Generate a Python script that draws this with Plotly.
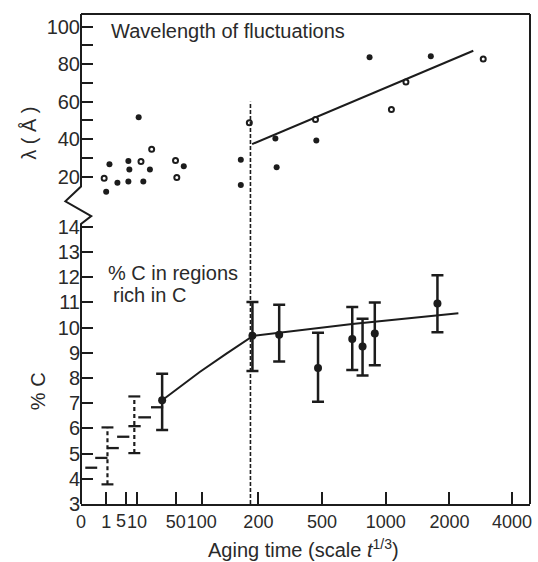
import numpy as np
import plotly.graph_objects as go

# ---------------- scale (aging time -> axis position) ----------------
TIME_TICKS = [0, 1, 5, 10, 50, 100, 200, 500, 1000, 2000, 4000]
TICK_LABELS = ["0", "1", "5", "10", "50", "100", "200", "500", "1000", "2000", "4000"]
AXIS_POS = [0, 25.3, 45.3, 56.3, 95.3, 121.3, 178.3, 242.3, 306.3, 370.3, 433.3]
X_RANGE = [0, 451.3]
SHIFTED_LABEL_T = 5      # label drawn slightly left of its tick, as in the original

def pos(t):
    return [None if v is None else float(np.interp(v, TIME_TICKS, AXIS_POS)) for v in t]

# ---------------- upper panel: wavelength of fluctuations ----------------
lam_open_t = [0.92, 14.1, 25.1, 49.7, 51.9, 184, 469, 1089, 1317, 3079]
lam_open = [19.1, 28.1, 34.6, 28.6, 19.6, 48.8, 50.5, 55.8, 70.5, 82.8]
lam_fill_t = [1.0, 1.66, 3.26, 6.05, 6.5, 6.05, 11.7, 16.5, 23.3, 65.4, 169, 169,
              280, 286, 473, 873, 1708]
lam_fill = [11.9, 26.7, 16.7, 28.4, 23.9, 17.4, 51.7, 17.4, 23.9, 25.6, 29.1, 15.6,
            40.4, 25.1, 39.3, 83.7, 84.2]
lam_fit_t = [189, 2762]
lam_fit = [37.4, 87.2]

# ---------------- lower panel: % C in regions rich in C ----------------
c_t = [35.9, 189.5, 298, 481, 737, 818, 914, 1812]
c_val = [7.12, 9.68, 9.72, 8.40, 9.55, 9.25, 9.77, 10.96]
c_err_up = [1.05, 1.34, 1.19, 1.40, 1.27, 1.10, 1.23, 1.12]
c_err_dn = [1.18, 1.40, 1.06, 1.34, 1.23, 1.15, 1.26, 1.14]
c_curve_t = [35.9, 96.2, 143, 191, 737, 2286]
c_curve = [7.12, 8.24, 8.96, 9.68, 10.15, 10.57]

step_t0 = [0.17, 0.565, 1.26, 3.2, 6.05, 11.3, 24.4]
step_t1 = [0.644, 1.26, 3.54, 6.5, 13.8, 24.4, 37.0]
step_c = [4.44, 4.83, 5.22, 5.67, 6.09, 6.44, 6.84]

dbar_t = [1.26, 8.77]
dbar_lo = [3.78, 5.02]
dbar_hi = [6.04, 7.27]

TRANSITION_T = 186
TRANSITION_TOP_LAM = 60

LAM_TICKS = [20, 40, 60, 80, 100]
LAM_MINOR = [30, 50, 70, 90]
C_TICKS = list(range(3, 15))

# ---------------- style ----------------
INK = "#1c1c1c"
TXT = "#2a2a2a"
FONT = "Liberation Sans, Arial, sans-serif"
Y1_DOM = [0, 0.5714]
Y1_RANGE = [3, 14.115]
Y2_DOM = [0.6217, 1]
Y2_RANGE = [7.9, 106.8]

# major x ticks (all but the shifted one) and the shifted one as a minor tick
k5 = TIME_TICKS.index(SHIFTED_LABEL_T)
x_major = [p for i, p in enumerate(AXIS_POS) if i != k5]
x_major_txt = [s for i, s in enumerate(TICK_LABELS) if i != k5]
x_minor = [AXIS_POS[k5]]

fig = go.Figure()

# upper panel
fig.add_trace(go.Scatter(x=pos(lam_fit_t), y=lam_fit, mode="lines",
                         line=dict(color=INK, width=2), yaxis="y2", showlegend=False))
fig.add_trace(go.Scatter(x=pos(lam_fill_t), y=lam_fill, mode="markers",
                         marker=dict(color=INK, size=6), yaxis="y2",
                         cliponaxis=False, showlegend=False))
fig.add_trace(go.Scatter(x=pos(lam_open_t), y=lam_open, mode="markers",
                         marker=dict(color="white", size=5, line=dict(color=INK, width=2)),
                         yaxis="y2", cliponaxis=False, showlegend=False))

# lower panel: staircase segments
sx, sy = [], []
for a, b, c in zip(pos(step_t0), pos(step_t1), step_c):
    sx += [a, b, None]
    sy += [c, c, None]
fig.add_trace(go.Scatter(x=sx, y=sy, mode="lines", line=dict(color=INK, width=2.3),
                         showlegend=False))

# dashed error bars
dx, dy, cx, cy = [], [], [], []
CAP = 6
for xp, lo, hi in zip(pos(dbar_t), dbar_lo, dbar_hi):
    dx += [xp, xp, None]
    dy += [lo, hi, None]
    for v in (lo, hi):
        cx += [xp - CAP, xp + CAP, None]
        cy += [v, v, None]
fig.add_trace(go.Scatter(x=dx, y=dy, mode="lines",
                         line=dict(color=INK, width=2.2, dash="4px,3px"), showlegend=False))
fig.add_trace(go.Scatter(x=cx, y=cy, mode="lines", line=dict(color=INK, width=2.2),
                         showlegend=False))

# curve and measured points
fig.add_trace(go.Scatter(x=pos(c_curve_t), y=c_curve, mode="lines",
                         line=dict(color=INK, width=2), showlegend=False))
fig.add_trace(go.Scatter(x=pos(c_t), y=c_val, mode="markers",
                         marker=dict(color=INK, size=8),
                         error_y=dict(type="data", symmetric=False, array=c_err_up,
                                      arrayminus=c_err_dn, color=INK, thickness=2.5, width=6),
                         showlegend=False))

# transition line (dashed), from bottom up to lambda = 60
top_frac = Y2_DOM[0] + (TRANSITION_TOP_LAM - Y2_RANGE[0]) / (Y2_RANGE[1] - Y2_RANGE[0]) * (Y2_DOM[1] - Y2_DOM[0])
xt = pos([TRANSITION_T])[0]
shapes = [
    dict(type="line", xref="x", yref="paper", x0=xt, x1=xt, y0=0, y1=top_frac,
         line=dict(color=INK, width=1.6, dash="4px,2px")),
    # top and right frame
    dict(type="line", xref="paper", yref="paper", x0=0, x1=1, y0=1, y1=1,
         line=dict(color=INK, width=2)),
    dict(type="line", xref="paper", yref="paper", x0=1, x1=1, y0=0, y1=1,
         line=dict(color=INK, width=2)),
]

# left spine with axis break zig-zag (paper coords)
W, H = 451.3, 497.0
def P(px, py):
    return ((px - 80.7) / W, (504 - py) / H)
pts = [P(80.7, 7), P(80.7, 182), P(65, 197), P(91, 212), P(80.7, 220), P(80.7, 504)]
path = "M " + " L ".join(f"{x:.5f},{y:.5f}" for x, y in pts)
shapes.append(dict(type="path", xref="paper", yref="paper", path=path,
                   line=dict(color=INK, width=2)))

annotations = [
    dict(text="Wavelength of fluctuations", xref="paper", yref="paper",
         x=P(109, 0)[0], y=P(0, 24)[1], xanchor="left", yanchor="middle",
         showarrow=False, font=dict(size=20, color=TXT, family=FONT)),
    dict(text="% C in regions", xref="paper", yref="paper",
         x=P(106, 0)[0], y=P(0, 270)[1], xanchor="left", yanchor="middle",
         showarrow=False, font=dict(size=20, color=TXT, family=FONT)),
    dict(text="rich in C", xref="paper", yref="paper",
         x=P(111, 0)[0], y=P(0, 292)[1], xanchor="left", yanchor="middle",
         showarrow=False, font=dict(size=20, color=TXT, family=FONT)),
    dict(text="λ ( Å )", xref="paper", yref="paper",
         x=P(29, 0)[0], y=P(0, 128)[1], xanchor="center", yanchor="middle",
         textangle=-90, showarrow=False, font=dict(size=20, color=TXT, family=FONT)),
    dict(text="% C", xref="paper", yref="paper",
         x=P(37, 0)[0], y=P(0, 390)[1], xanchor="center", yanchor="middle",
         textangle=-90, showarrow=False, font=dict(size=20, color=TXT, family=FONT)),
    dict(text="Aging time (scale <i>t</i><sup>1/3</sup>)", xref="paper", yref="paper",
         x=P(304, 0)[0], y=P(0, 549)[1], xanchor="center", yanchor="middle",
         showarrow=False, font=dict(size=20, color=TXT, family=FONT)),
    # tick label "5", nudged left of its tick so it does not collide with "10"
    dict(text=TICK_LABELS[k5], xref="x", yref="paper",
         x=AXIS_POS[k5], xshift=-5, y=P(0, 521)[1],
         xanchor="center", yanchor="middle", showarrow=False,
         font=dict(size=18, color=TXT, family=FONT)),
]

fig.update_layout(
    width=538, height=562,
    margin=dict(l=81, r=6, t=7, b=58),
    paper_bgcolor="white", plot_bgcolor="white",
    font=dict(family=FONT, color=TXT, size=18),
    xaxis=dict(range=X_RANGE, tickvals=x_major, ticktext=x_major_txt,
               ticks="inside", ticklen=12, tickwidth=2, tickcolor=INK, tickangle=0,
               minor=dict(tickvals=x_minor, ticks="inside", ticklen=12,
                          tickwidth=2, tickcolor=INK, showgrid=False),
               showline=True, linecolor=INK, linewidth=2, showgrid=False,
               zeroline=False, tickfont=dict(size=18, color=TXT), anchor="y"),
    yaxis=dict(domain=Y1_DOM, range=Y1_RANGE, tickvals=C_TICKS,
               ticks="inside", ticklen=12, tickwidth=2, tickcolor=INK,
               showline=False, showgrid=False, zeroline=False,
               tickfont=dict(size=20, color=TXT)),
    yaxis2=dict(domain=Y2_DOM, range=Y2_RANGE, tickvals=LAM_TICKS,
                ticks="inside", ticklen=12, tickwidth=2, tickcolor=INK,
                minor=dict(tickvals=LAM_MINOR, ticks="inside", ticklen=12,
                           tickwidth=2, tickcolor=INK, showgrid=False),
                showline=False, showgrid=False, zeroline=False, anchor="x",
                tickfont=dict(size=20, color=TXT)),
    shapes=shapes,
    annotations=annotations,
)

fig.write_html("out.html")
